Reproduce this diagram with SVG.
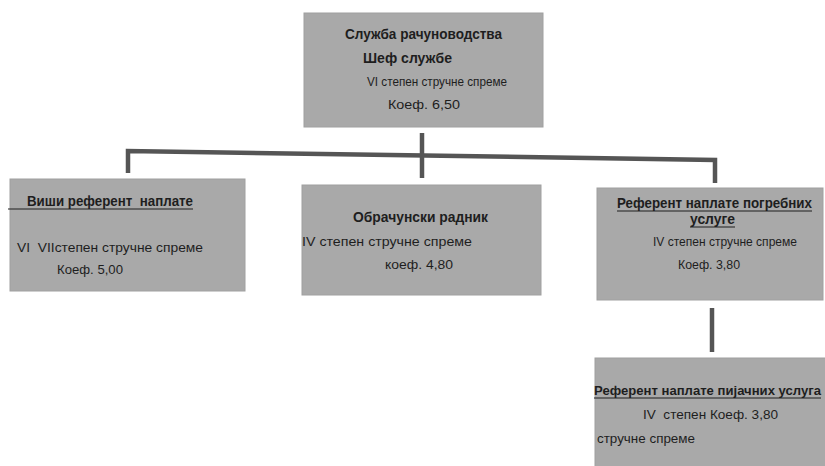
<svg xmlns="http://www.w3.org/2000/svg" width="825" height="466" viewBox="0 0 825 466">
<style>
.box{fill:#a9a9a9;stroke:#a0a0a0;stroke-width:1}
.t{font-family:"Liberation Sans",Arial,sans-serif;font-size:13.5px;fill:#1e1e1e;white-space:pre}
.b{font-weight:bold;font-size:14px}
.u{stroke:#1e1e1e;stroke-width:1.2}
.c{fill:none;stroke:#555;stroke-width:4.5;stroke-linejoin:miter}
</style>
<rect width="825" height="466" fill="#ffffff"/>
<g id="connectors">
<polyline class="c" points="128,173 128,151 715,160 715,183"/>
<line class="c" x1="422" y1="133" x2="422" y2="178"/>
<line class="c" x1="712" y1="308" x2="712" y2="352"/>
</g>
<g id="node-top">
<rect class="box" x="304" y="13" width="239" height="114"/>
<text class="t b" x="345" y="39" textLength="157" lengthAdjust="spacingAndGlyphs">Служба рачуноводства</text>
<text class="t b" x="363" y="63" textLength="89" lengthAdjust="spacingAndGlyphs">Шеф службе</text>
<text class="t" x="367" y="86" textLength="140" lengthAdjust="spacingAndGlyphs">VI степен стручне спреме</text>
<text class="t" x="388" y="109" textLength="72" lengthAdjust="spacingAndGlyphs">Коеф. 6,50</text>
</g>
<g id="node-left">
<rect class="box" x="10" y="179" width="235" height="112"/>
<text class="t b" x="27" y="206" textLength="166" lengthAdjust="spacingAndGlyphs">Виши референт  наплате</text>
<line class="u" x1="8" y1="209" x2="193" y2="209"/>
<text class="t" x="17" y="252" textLength="186" lengthAdjust="spacingAndGlyphs">VI  VIIстепен стручне спреме</text>
<text class="t" x="57" y="274" textLength="66" lengthAdjust="spacingAndGlyphs">Коеф. 5,00</text>
</g>
<g id="node-middle">
<rect class="box" x="302" y="185" width="239" height="110"/>
<text class="t b" x="353" y="222" textLength="135" lengthAdjust="spacingAndGlyphs">Обрачунски радник</text>
<text class="t" x="302" y="246" textLength="170" lengthAdjust="spacingAndGlyphs">IV степен стручне спреме</text>
<text class="t" x="385" y="269" textLength="68" lengthAdjust="spacingAndGlyphs">коеф. 4,80</text>
</g>
<g id="node-right">
<rect class="box" x="597" y="188" width="226" height="112"/>
<text class="t b" x="617" y="208" textLength="195" lengthAdjust="spacingAndGlyphs">Референт наплате погребних</text>
<line class="u" x1="617" y1="211" x2="812" y2="211"/>
<text class="t b" x="690" y="224" textLength="45" lengthAdjust="spacingAndGlyphs">услуге</text>
<line class="u" x1="690" y1="227" x2="735" y2="227"/>
<text class="t" x="653" y="246" textLength="144" lengthAdjust="spacingAndGlyphs">IV степен стручне спреме</text>
<text class="t" x="678" y="269" textLength="62" lengthAdjust="spacingAndGlyphs">Коеф. 3,80</text>
</g>
<g id="node-bottom">
<rect class="box" x="595" y="358" width="231" height="109"/>
<text class="t b" x="594" y="395" style="font-size:12px" textLength="227" lengthAdjust="spacingAndGlyphs">Референт наплате пијачних услуга</text>
<line class="u" x1="594" y1="398" x2="821" y2="398"/>
<text class="t" x="643" y="419" textLength="135" lengthAdjust="spacingAndGlyphs">IV  степен Коеф. 3,80</text>
<text class="t" x="597" y="443" textLength="98" lengthAdjust="spacingAndGlyphs">стручне спреме</text>
</g>
</svg>
